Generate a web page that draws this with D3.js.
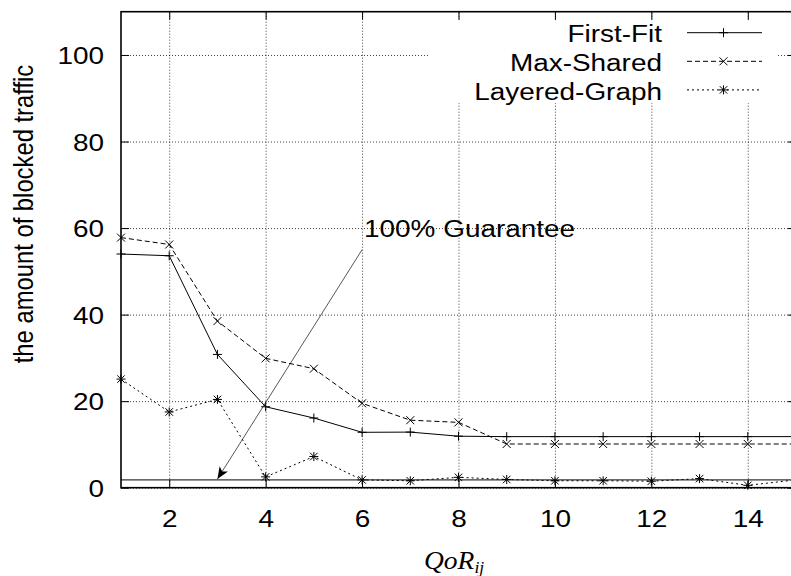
<!DOCTYPE html>
<html>
<head>
<meta charset="utf-8">
<script src="https://cdn.jsdelivr.net/npm/d3@7"></script>
<style>
  body { margin: 0; background: #fff; }
  svg { display: block; }
  text { font-family: "Liberation Sans", Arial, sans-serif; fill: #000; }
</style>
</head>
<body>
<svg id="chart" width="791" height="576"></svg>
<script>
// values
var qor = [1, 2, 3, 4, 5, 6, 7, 8, 9, 10, 11, 12, 13, 14, 15];
var firstFit = [54.0, 53.6, 30.8, 18.7, 16.1, 12.8, 12.85, 11.9, 11.8, 11.8, 11.8, 11.8, 11.8, 11.8, 11.8];
var maxShared = [57.8, 56.2, 38.5, 29.9, 27.5, 19.5, 15.6, 15.1, 10.1, 10.1, 10.1, 10.1, 10.1, 10.1, 10.1];
var layeredGraph = [25.1, 17.5, 20.4, 2.5, 7.2, 1.8, 1.6, 2.4, 1.9, 1.6, 1.6, 1.5, 2.1, 0.55, 1.8];
var guaranteeLevel = 1.8;
var arrowFrom = [6, 55];
var arrowTo = [3, 2];
var xTicks = [2, 4, 6, 8, 10, 12, 14];
var yTicks = [0, 20, 40, 60, 80, 100];
var seriesNames = ['First-Fit', 'Max-Shared', 'Layered-Graph'];

var stretch = 1.14;   // reference text is a bit wide
var margin = {left: 121, top: 11.7, bottom: 487.7, right: 796};

var svg = d3.select('#chart');

var x = d3.scaleLinear().domain([1, 15]).range([margin.left, margin.right]);
var y = d3.scaleLinear().domain([0, 110]).range([margin.bottom, margin.top]);

// grid
svg.append('g')
    .attr('transform', 'translate(0,' + margin.bottom + ')')
    .call(d3.axisBottom(x).tickValues(xTicks).tickSize(-(margin.bottom - margin.top)).tickFormat(''))
    .call(function(g){ g.select('.domain').remove(); });
svg.append('g')
    .attr('transform', 'translate(' + margin.left + ',0)')
    .call(d3.axisLeft(y).tickValues(yTicks).tickSize(-(margin.right - margin.left)).tickFormat(''))
    .call(function(g){ g.select('.domain').remove(); });
svg.selectAll('.tick line')
    .attr('stroke', '#000')
    .attr('stroke-width', 1)
    .attr('stroke-dasharray', '1,2')
    .attr('opacity', 0.75);

// legend background hides the grid
svg.append('rect')
    .attr('x', 430).attr('y', 20)
    .attr('width', 346).attr('height', 83)
    .attr('fill', '#fff');

// reference level and arrow
svg.append('line')
    .attr('x1', x(1)).attr('x2', x(15))
    .attr('y1', y(guaranteeLevel)).attr('y2', y(guaranteeLevel))
    .attr('stroke', '#000').attr('stroke-width', 1);

svg.append('defs').append('marker')
    .attr('id', 'head')
    .attr('viewBox', '0 0 12 10')
    .attr('refX', 12).attr('refY', 5)
    .attr('markerWidth', 12).attr('markerHeight', 10)
    .attr('markerUnits', 'userSpaceOnUse')
    .attr('orient', 'auto')
    .append('path')
    .attr('d', 'M0,0 L12,5 L0,10 L3,5 Z')
    .attr('fill', '#000');

svg.append('line')
    .attr('x1', x(arrowFrom[0])).attr('y1', y(arrowFrom[1]))
    .attr('x2', x(arrowTo[0])).attr('y2', y(arrowTo[1]))
    .attr('stroke', '#444').attr('stroke-width', 0.9)
    .attr('marker-end', 'url(#head)');

function stretchedText(sel, px, py, anchor, size, txt){
    return sel.append('text')
        .attr('transform', 'translate(' + px + ',' + py + ') scale(' + stretch + ',1)')
        .attr('text-anchor', anchor)
        .attr('font-size', size + 'px')
        .text(txt);
}

stretchedText(svg, 364, 236.7, 'start', 24.5, '100% Guarantee');

// markers
var plusType = {draw: function(c, s){ var r = Math.sqrt(s) / 2; c.moveTo(-r, 0); c.lineTo(r, 0); c.moveTo(0, -r); c.lineTo(0, r); }};
var timesType = {draw: function(c, s){ var r = Math.sqrt(s) / 2; c.moveTo(-r, -r); c.lineTo(r, r); c.moveTo(-r, r); c.lineTo(r, -r); }};
var starType = {draw: function(c, s){ plusType.draw(c, s); timesType.draw(c, s * 0.7); }};

var series = [
    {name: seriesNames[0], values: firstFit, dash: null, type: plusType, size: 81},
    {name: seriesNames[1], values: maxShared, dash: '5,3', type: timesType, size: 64},
    {name: seriesNames[2], values: layeredGraph, dash: '2,3', type: starType, size: 81}
];

var line = d3.line()
    .x(function(d, i){ return x(qor[i]); })
    .y(function(d){ return y(d); });

series.forEach(function(s){
    svg.append('path')
        .datum(s.values)
        .attr('d', line)
        .attr('fill', 'none')
        .attr('stroke', '#000')
        .attr('stroke-width', 1)
        .attr('stroke-dasharray', s.dash);

    svg.append('g').selectAll('path')
        .data(s.values)
        .join('path')
        .attr('transform', function(d, i){ return 'translate(' + x(qor[i]) + ',' + y(d) + ')'; })
        .attr('d', d3.symbol().type(s.type).size(s.size))
        .attr('fill', 'none')
        .attr('stroke', '#000')
        .attr('stroke-width', 1);
});

// legend
var legend = svg.append('g');
series.forEach(function(s, i){
    var ly = 32.7 + i * 28.6;
    stretchedText(legend, 662, ly + 9.6, 'end', 24.5, s.name);
    legend.append('line')
        .attr('x1', 687).attr('x2', 762)
        .attr('y1', ly).attr('y2', ly)
        .attr('stroke', '#000').attr('stroke-width', 1)
        .attr('stroke-dasharray', s.dash);
    legend.append('path')
        .attr('transform', 'translate(723.5,' + ly + ')')
        .attr('d', d3.symbol().type(s.type).size(s.size))
        .attr('fill', 'none').attr('stroke', '#000');
});

// axes with inward ticks
var xAxis = svg.append('g')
    .attr('transform', 'translate(0,' + margin.bottom + ')')
    .call(d3.axisBottom(x).tickValues(xTicks).tickSize(-8).tickFormat(d3.format('d')));
var xTop = svg.append('g')
    .attr('transform', 'translate(0,' + margin.top + ')')
    .call(d3.axisTop(x).tickValues(xTicks).tickSize(-8).tickFormat(''));
var yAxis = svg.append('g')
    .attr('transform', 'translate(' + margin.left + ',0)')
    .call(d3.axisLeft(y).tickValues(yTicks).tickSize(-8).tickFormat(d3.format('d')));
var yRight = svg.append('g')
    .attr('transform', 'translate(' + margin.right + ',0)')
    .call(d3.axisRight(y).tickValues(yTicks).tickSize(-8).tickFormat(''));

[xAxis, xTop, yAxis, yRight].forEach(function(g){
    g.select('.domain').remove();
    g.selectAll('.tick line').attr('stroke', '#000').attr('stroke-width', 1);
});

xAxis.selectAll('.tick text')
    .attr('y', null).attr('dy', null)
    .attr('transform', 'translate(0,39) scale(' + stretch + ',1)')
    .attr('font-size', '24.5px')
    .style('font-family', '"Liberation Sans", Arial, sans-serif')
    .attr('fill', '#000');
yAxis.selectAll('.tick text')
    .attr('x', null).attr('dy', null)
    .attr('transform', 'translate(-17,8.6) scale(' + stretch + ',1)')
    .attr('font-size', '24.5px')
    .style('font-family', '"Liberation Sans", Arial, sans-serif')
    .attr('fill', '#000');

// border
svg.append('rect')
    .attr('x', margin.left).attr('y', margin.top)
    .attr('width', margin.right - margin.left)
    .attr('height', margin.bottom - margin.top)
    .attr('fill', 'none')
    .attr('stroke', '#000')
    .attr('stroke-width', 1.6);

// axis titles
svg.append('text')
    .attr('transform', 'translate(33,214) rotate(-90) scale(1,' + stretch + ')')
    .attr('text-anchor', 'middle')
    .attr('font-size', '23.8px')
    .text('the amount of blocked traffic');

var xt = svg.append('text')
    .attr('transform', 'translate(424,568.7) scale(1.1,1)')
    .style('font-family', '"Liberation Serif", "Times New Roman", serif')
    .style('font-style', 'italic')
    .attr('font-size', '25px');
xt.append('tspan').text('QoR');
xt.append('tspan').attr('font-size', '16px').attr('dy', 4).text('ij');
</script>
</body>
</html>
